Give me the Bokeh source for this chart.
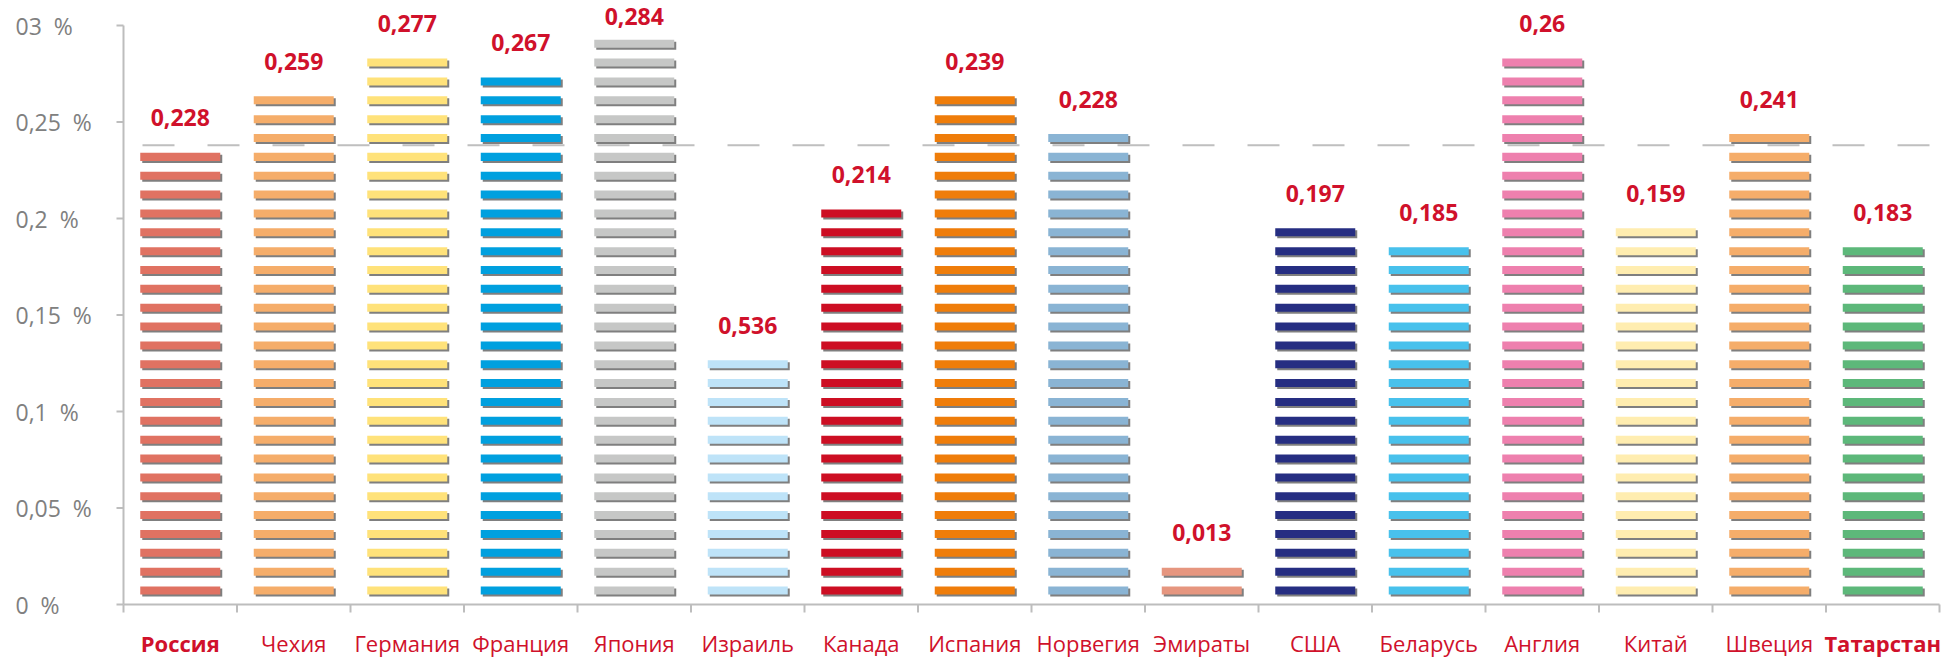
from bokeh.plotting import figure
from bokeh.models import Range1d, ColumnDataSource
from bokeh.core.properties import value
from bokeh.embed import file_html
from bokeh.resources import INLINE

# ---- data -------------------------------------------------------------
countries = ["Россия", "Чехия", "Германия", "Франция", "Япония", "Израиль",
             "Канада", "Испания", "Норвегия", "Эмираты", "США", "Беларусь",
             "Англия", "Китай", "Швеция", "Татарстан"]
bar_values = [0.234, 0.263, 0.283, 0.273, 0.293, 0.127, 0.205, 0.263,
              0.244, 0.020, 0.195, 0.185, 0.283, 0.195, 0.244, 0.185]
value_labels = ["0,228", "0,259", "0,277", "0,267", "0,284", "0,536", "0,214",
                "0,239", "0,228", "0,013", "0,197", "0,185", "0,26", "0,159",
                "0,241", "0,183"]
bar_colors = ["#E07262", "#F5AD6A", "#FFE27A", "#00A0DF", "#C6C7C6", "#BEE3F8",
              "#CD0E23", "#EF7D0A", "#8AB4D4", "#E6967F", "#262E82", "#48C1EC",
              "#EE80AE", "#FFEDB0", "#F5AD6A", "#5DB87A"]
highlighted = ["Россия", "Татарстан"]
y_ticks = [0, 0.05, 0.1, 0.15, 0.2, 0.25, 0.3]
y_tick_labels = ["0 %", "0,05 %", "0,1 %", "0,15 %", "0,2 %", "0,25 %", "03 %"]
reference_level = 0.238
stripe_step = 0.00977   # value represented by one stripe of a bar

# ---- layout -----------------------------------------------------------
W, H = 1959, 659
margin_left, margin_right, margin_top, margin_bottom = 123, 20, 0, 55
y_top = 0.313
n_cat = len(countries)
px_x = (W - margin_left - margin_right) / n_cat   # pixels per category
px_y = (H - margin_top - margin_bottom) / y_top   # pixels per value unit

RED = "#D0112B"
GREY_AXIS = "#BDBDBD"
FONT = "Open Sans"

# the plotting area spans the whole canvas; the margins are part of the scales
p = figure(width=W, height=H, output_backend="svg", toolbar_location=None,
           x_range=Range1d(-margin_left / px_x, n_cat + margin_right / px_x),
           y_range=Range1d(-margin_bottom / px_y, y_top),
           x_axis_location=None, y_axis_location=None,
           min_border=0)
p.outline_line_color = None
p.grid.visible = False
p.background_fill_color = "white"

# dashed reference level, from the value axis to the right end
p.segment(x0=[0], y0=[reference_level], x1=[n_cat], y1=[reference_level],
          line_color="#BFBFBF", line_width=2, line_dash="32 33", line_dash_offset=46)

# ---- striped bars -----------------------------------------------------
half_w = 40 / px_x
sx, sy = 2 / px_x, 2 / px_y
stripes = dict(left=[], right=[], bottom=[], top=[], color=[])
for i, (v, c) in enumerate(zip(bar_values, bar_colors)):
    n = int(round(v / stripe_step))
    for k in range(n):
        stripes["left"].append(i + 0.5 - half_w)
        stripes["right"].append(i + 0.5 + half_w)
        stripes["bottom"].append((k + 0.53) * stripe_step)
        stripes["top"].append((k + 0.955) * stripe_step)
        stripes["color"].append(c)
src = ColumnDataSource(stripes)
shadow = ColumnDataSource(dict(left=[x + sx for x in stripes["left"]],
                               right=[x + sx for x in stripes["right"]],
                               bottom=[y - sy for y in stripes["bottom"]],
                               top=[y - sy for y in stripes["top"]]))
p.quad(left="left", right="right", bottom="bottom", top="top", source=shadow,
       fill_color="#7F7F7F", line_color=None)
p.quad(left="left", right="right", bottom="bottom", top="top", source=src,
       fill_color="color", line_color=None)

# value labels above each bar, kept inside the canvas for the tallest bars
lab_x, lab_y = [], []
label_ceiling = y_top - 16 / px_y
for i, v in enumerate(bar_values):
    n = int(round(v / stripe_step))
    lab_x.append(i + 0.5)
    lab_y.append(min((n - 1 + 0.955) * stripe_step + 35 / px_y, label_ceiling))
p.text(x=lab_x, y=lab_y, text=value_labels, text_align="center",
       text_baseline="alphabetic", text_color=RED, text_font=value(FONT),
       text_font_style="bold", text_font_size="23px")

# ---- axes -------------------------------------------------------------
tick_x = 7 / px_x
tick_y = 8 / px_y
# value axis
p.segment(x0=[0], y0=[0], x1=[0], y1=[y_ticks[-1]], line_color=GREY_AXIS, line_width=2)
p.segment(x0=[-tick_x] * len(y_ticks), y0=y_ticks, x1=[0] * len(y_ticks), y1=y_ticks,
          line_color=GREY_AXIS, line_width=2)
# category axis with ticks between the categories
cat_edges = list(range(n_cat + 1))
p.segment(x0=[0], y0=[0], x1=[n_cat], y1=[0], line_color=GREY_AXIS, line_width=2)
p.segment(x0=cat_edges, y0=[0] * len(cat_edges), x1=cat_edges, y1=[-tick_y] * len(cat_edges),
          line_color=GREY_AXIS, line_width=2)

# value tick labels, left aligned in the margin
p.text(x=[(15 - margin_left) / px_x] * len(y_ticks), y=y_ticks,
       text=[t.replace(" ", "\u00a0\u00a0") for t in y_tick_labels],
       text_align="left", text_baseline="middle", text_color="#808080",
       text_font=value(FONT), text_font_size="23px")

# category names under the axis
label_y = -38 / px_y
for bold in (False, True):
    idx = [i for i, c in enumerate(countries) if (c in highlighted) == bold]
    p.text(x=[i + 0.5 for i in idx], y=[label_y] * len(idx),
           text=[countries[i] for i in idx], text_align="center",
           text_baseline="middle", text_color=RED, text_font=value(FONT),
           text_font_size="22px", text_font_style="bold" if bold else "normal")

open("out.html", "w").write(file_html(p, INLINE))
